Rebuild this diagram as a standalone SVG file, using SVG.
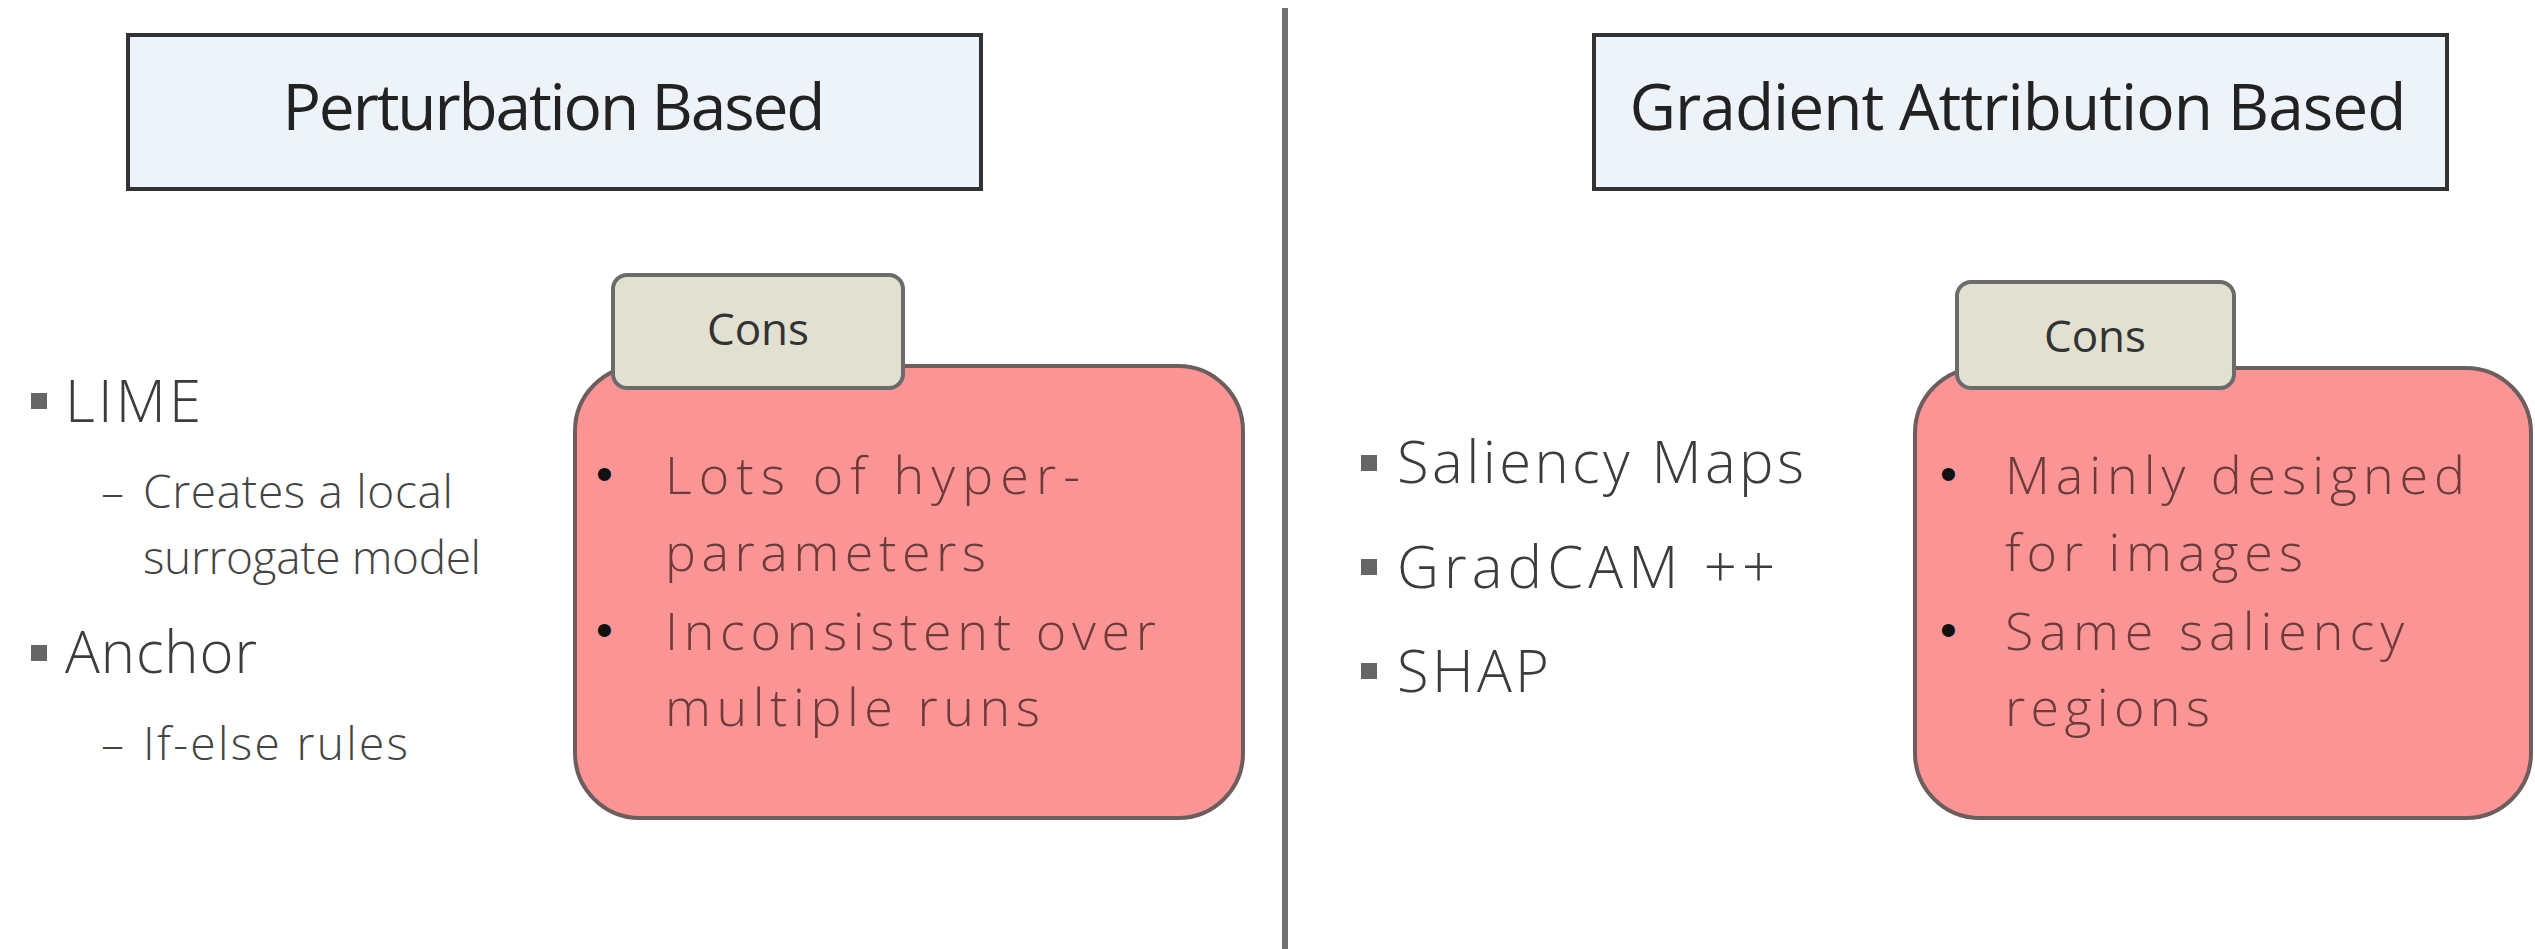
<svg xmlns="http://www.w3.org/2000/svg" width="2535" height="949" viewBox="0 0 2535 949">
  <style>
    .title-box { fill: #eef3fa; stroke: #333333; stroke-width: 4; }
    .title { font-family: "Open Sans", "Liberation Sans", sans-serif; font-size: 64px; fill: #222222; text-anchor: middle; }
    .tab { fill: #e1e0d1; stroke: #6b6b6b; stroke-width: 4; }
    .tab-label { font-family: "Open Sans", "Liberation Sans", sans-serif; font-size: 44px; fill: #333333; text-anchor: middle; }
    .cons { fill: #fb9595; stroke: #6f5d5d; stroke-width: 4; }
    .cons-text { font-family: "Open Sans", "Liberation Sans", sans-serif; font-weight: 300; font-size: 52px; fill: #6e3a3a; }
    .dot { font-family: "Liberation Sans", sans-serif; font-size: 48px; fill: #111111; }
    .item { font-family: "Open Sans", "Liberation Sans", sans-serif; font-weight: 300; font-size: 58px; fill: #3c3c3c; }
    .sub { font-family: "Open Sans", "Liberation Sans", sans-serif; font-weight: 300; font-size: 46px; fill: #444444; }
    .sq { fill: #666666; }
    .divider { stroke: #707070; stroke-width: 6; }
  </style>

  <rect width="2535" height="949" fill="#ffffff"/>

  <!-- vertical separator between the two families -->
  <g id="connectors">
    <line class="divider" x1="1285" y1="8" x2="1285" y2="949"/>
  </g>

  <!-- left column: perturbation based methods -->
  <g id="perturbation-title">
    <rect class="title-box" x="128" y="35" width="853" height="154"/>
    <text class="title" x="554" y="130" textLength="543">Perturbation Based</text>
  </g>

  <g id="perturbation-methods">
    <rect class="sq" x="31" y="393" width="16" height="16"/>
    <text class="item" x="65" y="422" textLength="136">LIME</text>
    <text class="sub" x="101" y="508">–</text>
    <text class="sub" x="143" y="508" textLength="310">Creates a local</text>
    <text class="sub" x="143" y="574" textLength="338">surrogate model</text>
    <rect class="sq" x="31" y="645" width="16" height="16"/>
    <text class="item" x="65" y="673" textLength="192">Anchor</text>
    <text class="sub" x="101" y="760">–</text>
    <text class="sub" x="143" y="760" textLength="265">If-else rules</text>
  </g>

  <g id="perturbation-cons">
    <rect class="cons" x="575" y="366" width="668" height="452" rx="65" ry="65"/>
    <rect class="tab" x="613" y="275" width="290" height="113" rx="14" ry="14"/>
    <text class="tab-label" x="758" y="345">Cons</text>
    <text class="dot" x="596" y="490">•</text>
    <text class="cons-text" x="665" y="494" textLength="415">Lots of hyper-</text>
    <text class="cons-text" x="665" y="571" textLength="321">parameters</text>
    <text class="dot" x="596" y="646">•</text>
    <text class="cons-text" x="665" y="650" textLength="491">Inconsistent over</text>
    <text class="cons-text" x="665" y="726" textLength="375">multiple runs</text>
  </g>

  <!-- right column: gradient attribution based methods -->
  <g id="gradient-title">
    <rect class="title-box" x="1594" y="35" width="853" height="154"/>
    <text class="title" x="2018" y="130" textLength="777">Gradient Attribution Based</text>
  </g>

  <g id="gradient-methods">
    <rect class="sq" x="1361" y="455" width="16" height="16"/>
    <text class="item" x="1397" y="483" textLength="407">Saliency Maps</text>
    <rect class="sq" x="1361" y="559" width="16" height="16"/>
    <text class="item" x="1397" y="588" textLength="378">GradCAM ++</text>
    <rect class="sq" x="1361" y="663" width="16" height="16"/>
    <text class="item" x="1397" y="692" textLength="152">SHAP</text>
  </g>

  <g id="gradient-cons">
    <rect class="cons" x="1915" y="368" width="616" height="450" rx="65" ry="65"/>
    <rect class="tab" x="1957" y="282" width="277" height="106" rx="14" ry="14"/>
    <text class="tab-label" x="2095" y="352">Cons</text>
    <text class="dot" x="1940" y="490">•</text>
    <text class="cons-text" x="2005" y="494" textLength="460">Mainly designed</text>
    <text class="cons-text" x="2005" y="571" textLength="298">for images</text>
    <text class="dot" x="1940" y="646">•</text>
    <text class="cons-text" x="2005" y="650" textLength="399">Same saliency</text>
    <text class="cons-text" x="2005" y="726" textLength="205">regions</text>
  </g>
</svg>
